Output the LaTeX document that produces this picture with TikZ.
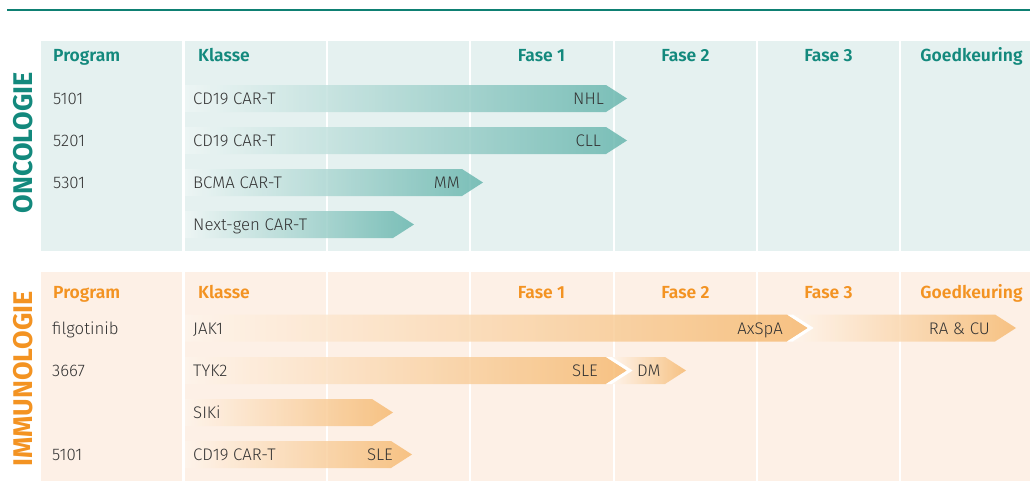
\documentclass[tikz,border=0pt]{standalone}
\usepackage{fontspec}
\setmainfont{Fira Sans Light}[BoldFont={Fira Sans SemiBold}]
\newfontfamily\sidefont{Fira Sans}[UprightFont={* Bold}]
\definecolor{tealline}{HTML}{0E8073}
\definecolor{tealtxt}{HTML}{13897D}
\definecolor{tealbg}{HTML}{E5F1F0}
\definecolor{tbarL}{HTML}{EEF6F5}
\definecolor{tbarR}{HTML}{68B6AE}
\definecolor{orgtxt}{HTML}{F39322}
\definecolor{orgbg}{HTML}{FDF0E6}
\definecolor{obarL}{HTML}{FEF4EB}
\definecolor{obarR}{HTML}{F6BA72}
\definecolor{txt}{HTML}{333333}
\newcommand\plainbar[4]{\shade[#4] (#1,#3-13.5) -- (#2-21,#3-13.5) -- (#2,#3) -- (#2-21,#3+13.5) -- (#1,#3+13.5) -- cycle;}
\newcommand\notchbar[4]{\shade[#4] (#1,#3-13.5) -- (#2-21,#3-13.5) -- (#2,#3) -- (#2-21,#3+13.5) -- (#1,#3+13.5) -- (#1+21,#3) -- cycle;}
\newcommand\chevgap[2]{\fill[white] (#1-21,#2-13.5) -- (#1-15,#2-13.5) -- (#1+6,#2) -- (#1-15,#2+13.5) -- (#1-21,#2+13.5) -- (#1,#2) -- cycle;}
\begin{document}
\begin{tikzpicture}[x=1pt,y=-1pt,
  lbl/.style={inner sep=0pt, font=\fontsize{16.8}{19}\selectfont, text=txt},
  hdr/.style={inner sep=0pt, font=\fontsize{17.5}{20}\selectfont\bfseries},
  side/.style={inner sep=0pt, rotate=90, font=\fontsize{27}{30}\sidefont},
  tealbar/.style={left color=tbarL, right color=tbarR, fill opacity=0.85},
  orgbar/.style={left color=obarL, right color=obarR, fill opacity=0.85}]
\useasboundingbox (0,0) rectangle (1030,480);
\clip (0,0) rectangle (1030,480);
% top rule
\draw[tealline, line width=2pt] (7,10) -- (1030,10);
% column backgrounds
\foreach \a/\b in {41/182,185/326,328/469,471/612.5,615/756,758/899,901/1042}{
  \fill[tealbg] (\a,41) rectangle (\b,251);
  \fill[orgbg] (\a,272) rectangle (\b,490);
}
% side titles
\node[side, text=tealtxt] (onc) at (23.5,143) {ONCOLOGIE};
\node[side, text=orgtxt] (imm) at (23.5,379) {IMMUNOLOGIE};
% headers oncology
\begin{scope}[every node/.style={hdr, text=tealtxt}]
\node[anchor=base west] (oh1) at (53,61.5) {Program};
\node[anchor=base west] (oh2) at (198,61.5) {Klasse};
\node[anchor=base] (oh3) at (541.5,61.5) {Fase 1};
\node[anchor=base] (oh4) at (685.5,61.5) {Fase 2};
\node[anchor=base] (oh5) at (828.5,61.5) {Fase 3};
\node[anchor=base] (oh6) at (971.5,61.5) {Goedkeuring};
\end{scope}
\begin{scope}[every node/.style={hdr, text=orgtxt}]
\node[anchor=base west] (ih1) at (53,298) {Program};
\node[anchor=base west] (ih2) at (198,298) {Klasse};
\node[anchor=base] (ih3) at (541.5,298) {Fase 1};
\node[anchor=base] (ih4) at (685.5,298) {Fase 2};
\node[anchor=base] (ih5) at (828.5,298) {Fase 3};
\node[anchor=base] (ih6) at (971.5,298) {Goedkeuring};
\end{scope}
% oncology bars
\plainbar{185}{627}{98.5}{tealbar}
\plainbar{185}{627}{140.5}{tealbar}
\plainbar{185}{483}{182.5}{tealbar}
\plainbar{185}{414}{224.5}{tealbar}
% immunology bars
\plainbar{185}{808}{328}{orgbar}
\chevgap{808}{328}
\notchbar{793}{1016}{328}{orgbar}
\plainbar{185}{627}{370.5}{orgbar}
\chevgap{627}{370.5}
\notchbar{612}{686}{370.5}{orgbar}
\plainbar{185}{393}{412.5}{orgbar}
\plainbar{185}{412}{454.5}{orgbar}
% oncology labels
\begin{scope}[every node/.style={lbl}]
\node[anchor=base west] (p1) at (53,104.5) {5101};
\node[anchor=base west] (p2) at (53,146.5) {5201};
\node[anchor=base west] (p3) at (53,188.5) {5301};
\node[anchor=base west] (k1) at (193,104.5) {CD19 CAR-T};
\node[anchor=base west] (k2) at (193,146.5) {CD19 CAR-T};
\node[anchor=base west] (k3) at (193,188.5) {BCMA CAR-T};
\node[anchor=base west] (k4) at (193,230.5) {Next-gen CAR-T};
\node[anchor=base east] (e1) at (604,104.5) {NHL};
\node[anchor=base east] (e2) at (601,146.5) {CLL};
\node[anchor=base east] (e3) at (460,188.5) {MM};
% immunology labels
\node[anchor=base west] (q1) at (52,334) {filgotinib};
\node[anchor=base west] (q2) at (52,376.5) {3667};
\node[anchor=base west] (q4) at (52,460.5) {5101};
\node[anchor=base west] (m1) at (193,334) {JAK1};
\node[anchor=base west] (m2) at (193,376.5) {TYK2};
\node[anchor=base west] (m3) at (193,418.5) {SIKi};
\node[anchor=base west] (m4) at (193,460.5) {CD19 CAR-T};
\node[anchor=base east] (f1) at (783,334) {AxSpA};
\node[anchor=base east] (f2) at (990,334) {RA \& CU};
\node[anchor=base east] (f3) at (598,376.5) {SLE};
\node[anchor=base west] (f4) at (637,376.5) {DM};
\node[anchor=base east] (f5) at (393,460.5) {SLE};
\end{scope}
\end{tikzpicture}
\end{document}
